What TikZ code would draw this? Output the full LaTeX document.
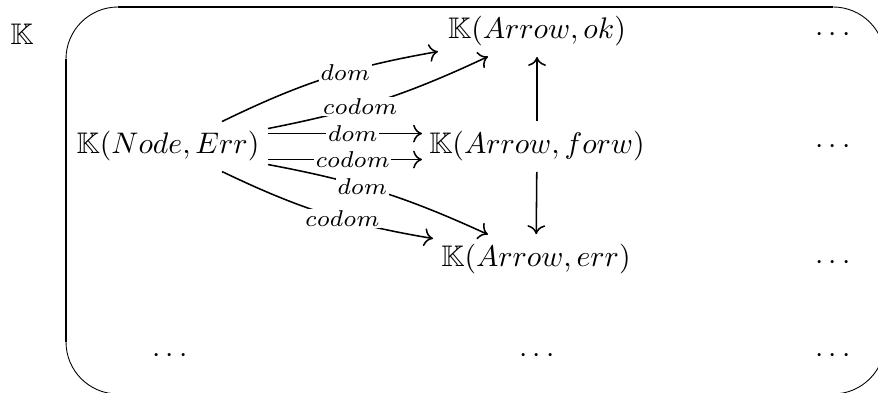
\documentclass[tikz,border=0pt]{standalone}
\usepackage{amssymb}
\usepackage{graphicx}
\usetikzlibrary{arrows.meta}
\newcommand{\edgelbl}[1]{\scalebox{1.1}{$\scriptstyle #1$}}
\begin{document}
\begin{tikzpicture}[x=0.336pt,y=0.336pt,
  ent/.style={anchor=base, inner sep=3.333pt},
  dts/.style={anchor=base, inner sep=0pt},
  arr/.style={line width=0.52pt, -{To[length=3pt,width=6pt]}},
  lab/.style={fill=white, inner sep=0.5pt},
  frameline/.style={line width=0.65pt},
  framearc/.style={line width=0.3pt}]
\useasboundingbox (0,0) rectangle (878,393);
\clip (0,0) rectangle (878,393);
% frame
\draw[frameline] (118,386) -- (833,386);
\draw[frameline] (66,334) -- (66,51);
\draw[framearc] (66,334) arc[start angle=180, end angle=90, radius=17.47pt];
\draw[framearc] (833,386) arc[start angle=90, end angle=0, radius=17.47pt];
\draw[framearc] (885,51) arc[start angle=0, end angle=-90, radius=17.47pt];
\draw[framearc] (118,-1) arc[start angle=270, end angle=180, radius=17.47pt];
% entries
\node[ent] (K) at (22,348) {$\mathbb{K}$};
\node[ent] (ne) at (168,239) {$\mathbb{K}(Node, Err)$};
\node[ent] (ok) at (537,354) {$\mathbb{K}(Arrow, ok)$};
\node[ent] (forw) at (537,239) {$\mathbb{K}(Arrow, forw)$};
\node[ent] (err) at (536,126) {$\mathbb{K}(Arrow, err)$};
\node[dts] (d1) at (833,351) {$\cdots$};
\node[dts] (d2) at (833,239) {$\cdots$};
\node[dts] (d3) at (833,123) {$\cdots$};
\node[dts] (d4) at (833,30) {$\cdots$};
\node[dts] (d5) at (170,30) {$\cdots$};
\node[dts] (d6) at (537,30) {$\cdots$};
% connectors
\draw[arr] ([shift={(54,25)}]ne.center) to[bend left=8] node[lab,pos=0.59]{\edgelbl{dom}} ([shift={(-99,-20)}]ok.center);
\draw[arr] ([shift={(100,18)}]ne.center) to[bend right=7] node[lab,pos=0.4]{\edgelbl{codom}} ([shift={(-49,-25)}]ok.center);
\draw[arr] ([shift={(100,13)}]ne.center) -- node[lab,pos=0.55]{\edgelbl{dom}} ([shift={(-115,13)}]forw.center);
\draw[arr] ([shift={(100,-13)}]ne.center) -- node[lab,pos=0.55]{\edgelbl{codom}} ([shift={(-115,-13)}]forw.center);
\draw[arr] ([shift={(100,-18)}]ne.center) to[bend left=7] node[lab,pos=0.41]{\edgelbl{dom}} ([shift={(-48,25)}]err.center);
\draw[arr] ([shift={(54,-25)}]ne.center) to[bend right=8] node[lab,pos=0.59]{\edgelbl{codom}} ([shift={(-103,21)}]err.center);
\draw[arr] (forw) -- (ok);
\draw[arr] (forw) -- (err);
\end{tikzpicture}
\end{document}
